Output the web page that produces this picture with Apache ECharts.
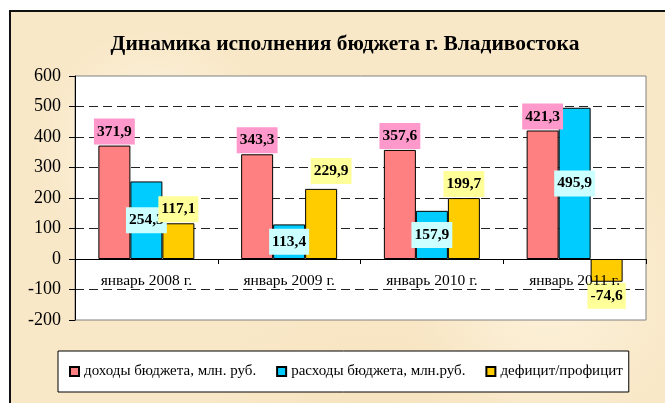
<!DOCTYPE html>
<html>
<head>
<meta charset="utf-8">
<script src="https://cdn.jsdelivr.net/npm/echarts@6/dist/echarts.min.js"></script>
<style>
html,body{margin:0;padding:0;background:#fff;width:665px;height:403px;overflow:hidden;}
#frame{position:absolute;left:9px;top:10px;width:720px;height:460px;border:2px solid #111;
  background:
   radial-gradient(circle at 20% 30%, rgba(255,250,235,0.7) 0, rgba(255,250,235,0) 120px),
   radial-gradient(circle at 75% 60%, rgba(255,248,230,0.6) 0, rgba(255,248,230,0) 140px),
   radial-gradient(circle at 50% 90%, rgba(240,215,170,0.35) 0, rgba(240,215,170,0) 160px),
   #F9E8C8;}
#chart{position:absolute;left:0;top:0;width:665px;height:403px;}
</style>
</head>
<body>
<div id="frame"></div>
<div id="chart"></div>
<script>
const titleText = 'Динамика исполнения бюджета г. Владивостока';
const categories = ['январь 2008 г.', 'январь 2009 г.', 'январь 2010 г.', 'январь 2011 г.'];
const seriesNames = ['доходы бюджета, млн. руб.', 'расходы бюджета, млн.руб.', 'дефицит/профицит'];
const revenue = [371.9, 343.3, 357.6, 421.3];
const expenses = [254.3, 113.4, 157.9, 495.9];
const balance = [117.1, 229.9, 199.7, -74.6];
const yMin = -200, yMax = 600, yStep = 100;

const fmt = v => v.toFixed(1).replace('.', ',');
const serif = 'Liberation Serif';

function labelStyle(bg) {
  return {
    show: true,
    formatter: p => fmt(p.value),
    fontFamily: serif,
    fontWeight: 'bold',
    fontSize: 15.5,
    lineHeight: 16,
    color: '#000',
    backgroundColor: bg,
    padding: [5, 3, 5, 3]
  };
}

const barBase = {
  type: 'bar',
  barWidth: 32,
  barGap: '0%',
  itemStyle: { borderColor: '#000', borderWidth: 1 }
};

const chart = echarts.init(document.getElementById('chart'), null, { renderer: 'canvas', width: 665, height: 403 });

chart.setOption({
  animation: false,
  backgroundColor: 'transparent',
  title: {
    text: titleText,
    left: 340,
    top: 28,
    textAlign: 'center',
    textStyle: { fontFamily: serif, fontWeight: 'bold', fontSize: 21.5, color: '#000' }
  },
  legend: {
    left: 58,
    top: 351,
    padding: [13, 6, 13, 11],
    itemGap: 20,
    itemWidth: 9,
    itemHeight: 9,
    icon: 'rect',
    backgroundColor: '#fff',
    borderColor: '#000',
    borderWidth: 1,
    textStyle: { fontFamily: serif, fontSize: 15, color: '#000' },
    data: seriesNames
  },
  grid: {
    left: 75, top: 76, right: 19, bottom: 83,
    show: true,
    backgroundColor: '#fff',
    borderColor: '#808080',
    borderWidth: 1
  },
  xAxis: {
    type: 'category',
    data: categories,
    z: 5,
    axisLine: { onZero: false, lineStyle: { color: '#000', width: 1 } },
    axisTick: { show: true, length: 5, lineStyle: { color: '#000' } },
    axisLabel: { margin: 14, fontFamily: serif, fontSize: 15.5, color: '#000' }
  },
  yAxis: {
    type: 'value',
    min: yMin, max: yMax, interval: yStep,
    axisLine: { show: true, lineStyle: { color: '#000', width: 1 } },
    axisTick: { show: true, length: 6, lineStyle: { color: '#000' } },
    axisLabel: { margin: 14, fontFamily: serif, fontSize: 18, color: '#000' },
    splitLine: {
      show: true,
      showMinLine: false,
      showMaxLine: false,
      lineStyle: { color: '#222', type: [9, 5], width: 1 }
    }
  },
  series: [
    Object.assign({}, barBase, {
      name: seriesNames[0],
      data: revenue,
      itemStyle: { color: '#FF8080', borderColor: '#000', borderWidth: 1 },
      label: Object.assign(labelStyle('#FF99CC'), { position: 'top', distance: 1 })
    }),
    Object.assign({}, barBase, {
      name: seriesNames[1],
      data: expenses,
      itemStyle: { color: '#00CCFF', borderColor: '#000', borderWidth: 1 },
      label: Object.assign(labelStyle('#CCFFFF'), { position: 'inside' })
    }),
    Object.assign({}, barBase, {
      name: seriesNames[2],
      data: balance.map((v, i) => ({
        value: v,
        label: v < 0 ? { position: 'bottom', distance: 1 }
             : (i === 1 ? { position: 'top', distance: 5, offset: [10, 0] } : { position: 'top', distance: 1 })
      })),
      itemStyle: { color: '#FFCC00', borderColor: '#000', borderWidth: 1 },
      label: Object.assign(labelStyle('#FFFF99'), { position: 'top', distance: 1 })
    })
  ]
});

// Move the category axis (line, ticks, labels) up to the value-axis zero, using the library's scale.
const zeroY = chart.convertToPixel({ yAxisIndex: 0 }, 0);
const minY = chart.convertToPixel({ yAxisIndex: 0 }, yMin);
chart.setOption({ xAxis: { offset: -(minY - zeroY) } });
</script>
</body>
</html>
